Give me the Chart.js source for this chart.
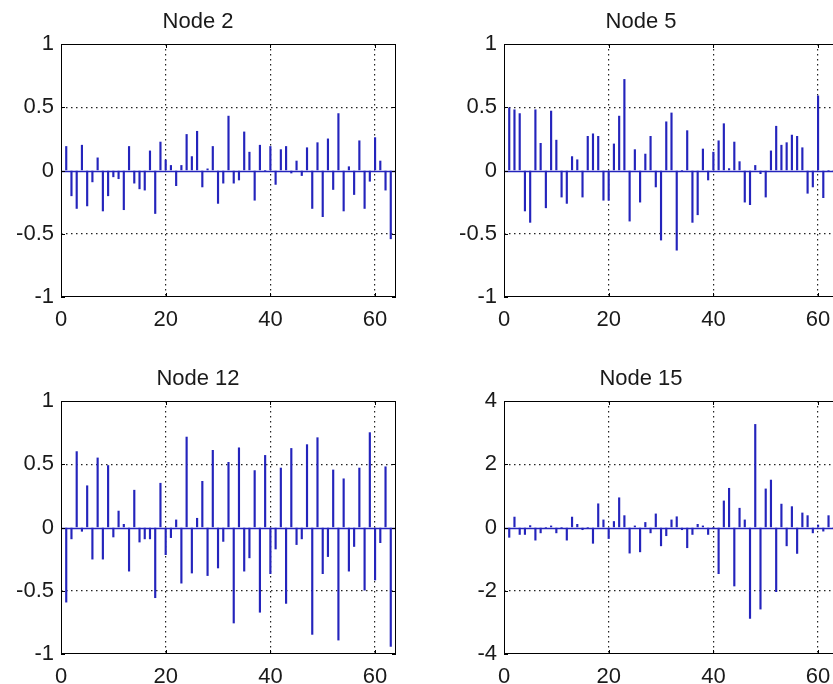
<!DOCTYPE html>
<html>
<head>
<meta charset="utf-8">
<script src="https://cdn.jsdelivr.net/npm/chart.js@4.4.0/dist/chart.umd.min.js"></script>
<style>
  html, body { margin: 0; padding: 0; background: #fff; overflow: hidden; width: 833px; height: 684px; }
  canvas { position: absolute; }
</style>
</head>
<body>
<canvas id="node2" width="420" height="337" style="left:0px;top:0px"></canvas>
<canvas id="node5" width="420" height="337" style="left:443px;top:0px"></canvas>
<canvas id="node12" width="420" height="337" style="left:0px;top:357px"></canvas>
<canvas id="node15" width="420" height="337" style="left:443px;top:357px"></canvas>
<script>
// sample index 1..63, axis runs 0..64
const xIndex = Array.from({ length: 63 }, (_, i) => i + 1)
const xTicks = [0, 20, 40, 60]
const yTicksSmall = [-1, -0.5, 0, 0.5, 1]
const yTicksBig = [-4, -2, 0, 2, 4]

const node2 = [0.19, -0.20, -0.30, 0.20, -0.28, -0.09, 0.10, -0.32, -0.20, -0.05,
  -0.065, -0.31, 0.19, -0.10, -0.145, -0.155, 0.155, -0.34, 0.225, 0.083,
  0.04, -0.12, 0.04, 0.285, 0.11, 0.31, -0.13, 0.013, 0.19, -0.26,
  -0.10, 0.43, -0.10, -0.075, 0.305, 0.145, -0.235, 0.20, 0, 0.19,
  -0.11, 0.165, 0.19, -0.02, 0.075, -0.04, 0.18, -0.30, 0.22, -0.365,
  0.25, -0.15, 0.45, -0.32, 0.03, -0.19, 0.235, -0.30, -0.085, 0.26,
  0.075, -0.155, -0.54]

const node5 = [0.495, 0.48, 0.45, -0.32, -0.41, 0.48, 0.215, -0.295, 0.47, 0.24,
  -0.21, -0.26, 0.11, 0.085, -0.21, 0.27, 0.29, 0.27, -0.235, -0.235,
  0.21, 0.43, 0.72, -0.40, 0.165, -0.25, 0.13, 0.27, -0.13, -0.55,
  0.385, 0.455, -0.63, 0, 0.315, -0.41, -0.35, 0.17, -0.075, 0.145,
  0.235, 0.37, 0.015, 0.225, 0.07, -0.25, -0.27, 0.04, -0.025, -0.21,
  0.155, 0.35, 0.20, 0.22, 0.28, 0.27, 0.18, -0.18, -0.13, 0.59,
  -0.215, 0, 0]

const node12 = [-0.59, -0.09, 0.60, -0.03, 0.33, -0.25, 0.55, -0.25, 0.49, -0.075,
  0.13, 0.025, -0.345, 0.295, -0.115, -0.09, -0.09, -0.555, 0.35, -0.215,
  -0.08, 0.06, -0.44, 0.715, -0.36, 0.073, 0.365, -0.38, 0.61, -0.32,
  -0.11, 0.515, -0.755, 0.63, -0.345, -0.24, 0.45, -0.67, 0.57, -0.365,
  -0.17, 0.47, -0.60, 0.625, -0.135, -0.09, 0.655, -0.845, 0.71, -0.365,
  -0.23, 0.455, -0.89, 0.385, -0.345, -0.15, 0.47, -0.495, 0.75, -0.415,
  -0.12, 0.48, -0.94]

const node15 = [-0.31, 0.33, -0.22, -0.22, 0.06, -0.40, -0.17, 0, 0.05, -0.17,
  0, -0.40, 0.33, 0.10, -0.07, 0, -0.50, 0.75, 0.24, -0.35,
  0.19, 0.94, 0.375, -0.81, 0.05, -0.77, 0.16, -0.17, 0.43, -0.58,
  -0.26, 0.24, 0.34, -0.07, -0.64, -0.22, 0.10, 0.05, -0.22, 0,
  -1.46, 0.84, 1.24, -1.85, 0.61, 0.24, -2.875, 3.26, -2.58, 1.22,
  1.50, -2.03, 0.74, -0.58, 0.66, -0.82, 0.46, 0.375, -0.17, 0.08,
  -0.115, 0.375, 0]

const stemColor = '#2424bc'
Chart.defaults.font.family = "'Liberation Sans', Arial, sans-serif"

// baseline under the stems, and the matlab style box with inward ticks on top
const stemFrame = {
    id: 'stemFrame',
    beforeDatasetsDraw(chart) {
        const { ctx, chartArea, scales } = chart
        const y0 = Math.round(scales.y.getPixelForValue(0)) + 0.5
        ctx.save()
        ctx.strokeStyle = stemColor
        ctx.lineWidth = 1.3
        ctx.beginPath()
        ctx.moveTo(chartArea.left, y0)
        ctx.lineTo(chartArea.right, y0)
        ctx.stroke()
        ctx.restore()
    },
    afterDatasetsDraw(chart) {
        const { ctx, chartArea, scales } = chart
        const a = chartArea
        ctx.save()
        ctx.strokeStyle = '#000'
        ctx.lineWidth = 1
        ctx.strokeRect(a.left + 0.5, a.top + 0.5, a.right - a.left - 1, a.bottom - a.top - 1)
        ctx.beginPath()
        scales.x.ticks.forEach(t => {
            const px = Math.round(scales.x.getPixelForValue(t.value)) + 0.5
            ctx.moveTo(px, a.bottom); ctx.lineTo(px, a.bottom - 4)
            ctx.moveTo(px, a.top); ctx.lineTo(px, a.top + 4)
        })
        scales.y.ticks.forEach(t => {
            const py = Math.round(scales.y.getPixelForValue(t.value)) + 0.5
            ctx.moveTo(a.left, py); ctx.lineTo(a.left + 4, py)
            ctx.moveTo(a.right, py); ctx.lineTo(a.right - 4, py)
        })
        ctx.stroke()
        ctx.restore()
    }
}

function stemChart(id, title, values, yTicks) {
    const yMin = yTicks[0]
    const yMax = yTicks[yTicks.length - 1]
    return new Chart(document.getElementById(id), {
        type: 'bar',
        data: {
            datasets: [
                {
                    data: xIndex.map((x, i) => ({ x: x, y: values[i] })),
                    backgroundColor: stemColor,
                    borderWidth: 0,
                    barThickness: 1.5
                }
            ]
        },
        options: {
            responsive: false,
            animation: false,
            events: [],
            layout: { padding: { right: 24 } },
            scales: {
                x: {
                    type: 'linear',
                    min: 0,
                    max: 64,
                    offset: false,
                    afterBuildTicks: s => { s.ticks = xTicks.map(v => ({ value: v })) },
                    afterFit: s => { s.height = 40 },
                    grid: {
                        offset: false,
                        drawTicks: false,
                        lineWidth: 1.2,
                        color: c => (c.tick && c.tick.value > 0 && c.tick.value < 64) ? '#222' : 'rgba(0,0,0,0)'
                    },
                    border: { display: false, dash: [1.5, 3.5] },
                    ticks: {
                        padding: 10,
                        color: '#1a1a1a',
                        font: { size: 22 },
                        maxRotation: 0,
                        callback: v => String(v)
                    }
                },
                y: {
                    min: yMin,
                    max: yMax,
                    afterBuildTicks: s => { s.ticks = yTicks.map(v => ({ value: v })) },
                    afterFit: s => { s.width = 61 },
                    grid: {
                        drawTicks: false,
                        lineWidth: 1.2,
                        color: c => (c.tick && c.tick.value !== 0 && c.tick.value > yMin && c.tick.value < yMax) ? '#222' : 'rgba(0,0,0,0)'
                    },
                    border: { display: false, dash: [1.5, 3.5] },
                    ticks: {
                        padding: 7,
                        color: '#1a1a1a',
                        font: { size: 22 },
                        callback: v => String(v)
                    }
                }
            },
            plugins: {
                legend: { display: false },
                tooltip: { enabled: false },
                title: {
                    display: true,
                    text: title,
                    color: '#1a1a1a',
                    font: { size: 22, weight: 'normal', lineHeight: 1.2 },
                    padding: { top: 9, bottom: 8.6 }
                }
            }
        },
        plugins: [stemFrame]
    })
}

stemChart('node2', 'Node 2', node2, yTicksSmall)
stemChart('node5', 'Node 5', node5, yTicksSmall)
stemChart('node12', 'Node 12', node12, yTicksSmall)
stemChart('node15', 'Node 15', node15, yTicksBig)
</script>
</body>
</html>
